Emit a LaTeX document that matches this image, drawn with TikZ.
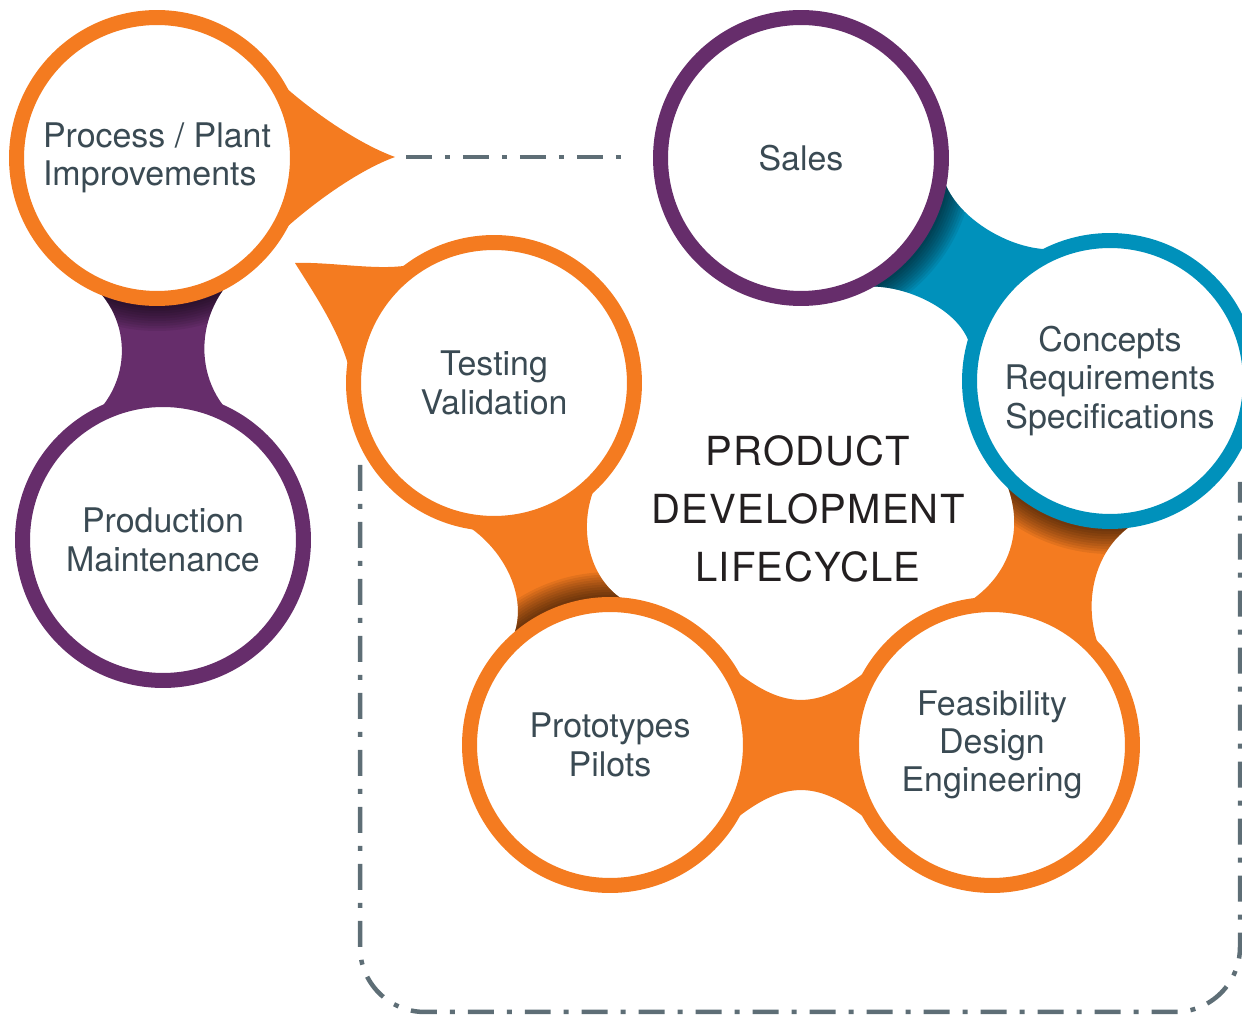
\documentclass[tikz,border=0pt]{standalone}
\usepackage{fontspec}
\setsansfont{TeX Gyre Heros}
\newfontfamily\titlefont[LetterSpace=3]{TeX Gyre Heros}
\usetikzlibrary{backgrounds,calc}

\definecolor{pdorange}{HTML}{F47B20}
\definecolor{pdpurple}{HTML}{662D6B}
\definecolor{pdblue}{HTML}{0091BB}
\definecolor{dashgrey}{HTML}{5E6E76}
\definecolor{labelgrey}{HTML}{3A4A53}
\definecolor{titleblack}{HTML}{231F20}

\tikzset{
  stage/.style={circle, draw=#1, line width=0.3cm, fill=white, minimum size=5.62cm,
    inner sep=0pt, outer sep=0pt, align=center, text=labelgrey,
    font=\sffamily\fontsize{19.3}{21.8}\selectfont},
  dashdot/.style={draw=dashgrey, line width=0.09cm,
    dash pattern=on 0.52cm off 0.26cm on 0.1cm off 0.26cm},
  shadowring/.style={fill=black, opacity=0.07}
}

% necks between the circles
\newcommand\neckPP{(process.237) .. controls +(-33:65) and +(35:65) .. (production.125)
  -- (production.center) -- (production.55) .. controls +(145:65) and +(218:65) .. (process.-52)
  -- (process.center) -- cycle}
\newcommand\neckSC{(sales.-2) .. controls +(-92:50) and +(197:50) .. (concepts.107)
  -- (concepts.center) -- (concepts.172) .. controls +(82:50) and +(20:45) .. (sales.-70)
  -- (sales.center) -- cycle}
\newcommand\neckCF{(concepts.-72) .. controls +(-162:65) and +(123:65) .. (feasibility.33)
  -- (feasibility.center) -- (feasibility.115) .. controls +(15:70) and +(-60:80) .. (concepts.217)
  -- (concepts.center) -- cycle}
\newcommand\neckPF{(prototypes.55) .. controls +(-45:132) and +(225:132) .. (feasibility.125)
  -- (feasibility.center) -- (feasibility.-125) .. controls +(135:132) and +(45:132) .. (prototypes.-55)
  -- (prototypes.center) -- cycle}
\newcommand\neckTP{(testing.250) .. controls +(-20:60) and +(50:60) .. (prototypes.140)
  -- (prototypes.center) -- (prototypes.76) .. controls +(166:60) and +(-127:60) .. (testing.-37)
  -- (testing.center) -- cycle}

\begin{document}
\begin{tikzpicture}[x=0.02cm, y=0.02cm]
  \useasboundingbox (0,0) rectangle (1242,1015);

  \node[stage=pdorange, align=left] (process) at (157,857) {Process / Plant\\Improvements};
  \node[stage=pdpurple] (production) at (163,475) {Production\\Maintenance};
  \node[stage=pdpurple] (sales) at (801,857) {Sales};
  \node[stage=pdblue] (concepts) at (1110,634) {Concepts\\Requirements\\Specifications};
  \node[stage=pdorange] (testing) at (494,632) {Testing\\Validation};
  \node[stage=pdorange] (prototypes) at (610,270) {Prototypes\\Pilots};
  \node[stage=pdorange] (feasibility) at (992,270) {Feasibility\\Design\\Engineering};

  \node[font=\titlefont\fontsize{22.8}{33.2}\selectfont, text=titleblack, align=center]
    (title) at (808,506) {PRODUCT\\DEVELOPMENT\\LIFECYCLE};

  \coordinate (processtip) at (395,858);
  \coordinate (testingtip) at (295,752);

  \begin{scope}[on background layer]
    % tails
    \fill[pdorange] (process.42) .. controls +(-48:40) and +(160:50) .. (processtip)
      .. controls +(-160:50) and +(48:40) .. (process.-42) -- (process.center) -- cycle;
    \fill[pdorange] (testing.185) .. controls +(95:50) and +(-58:45) .. (testingtip)
      .. controls +(2:45) and +(208:35) .. (testing.118) -- (testing.center) -- cycle;
    % necks
    \fill[pdpurple] \neckPP;
    \fill[pdblue] \neckSC;
    \fill[pdorange] \neckCF;
    \fill[pdorange] \neckPF;
    \fill[pdorange] \neckTP;
    % shadows under the circle on top
    \begin{scope}
      \clip \neckPP;
      \foreach \k in {1,...,10}
        \fill[shadowring] (process) circle ({148+2.5*\k});
    \end{scope}
    \begin{scope}
      \clip \neckSC;
      \foreach \k in {1,...,10}
        \fill[shadowring] (sales) circle ({148+2.5*\k});
    \end{scope}
    \begin{scope}
      \clip \neckCF;
      \foreach \k in {1,...,10}
        \fill[shadowring] (concepts) circle ({148+2.5*\k});
    \end{scope}
    \begin{scope}
      \clip \neckTP;
      \foreach \k in {1,...,10}
        \fill[shadowring] (prototypes) circle ({148+2.5*\k});
    \end{scope}
  \end{scope}

  \draw[dashdot, shorten <=0.22cm, shorten >=0.65cm] (processtip) -- (processtip -| sales.west);

  \coordinate (boxtopleft) at (360,550);
  \coordinate (boxtopright) at (1240,533);
  \coordinate (boxbottom) at (800,3);
  \draw[dashdot, rounded corners=1.3cm] (boxtopleft) -- (boxtopleft |- boxbottom)
    -- (boxtopright |- boxbottom) -- (boxtopright);
\end{tikzpicture}
\end{document}
